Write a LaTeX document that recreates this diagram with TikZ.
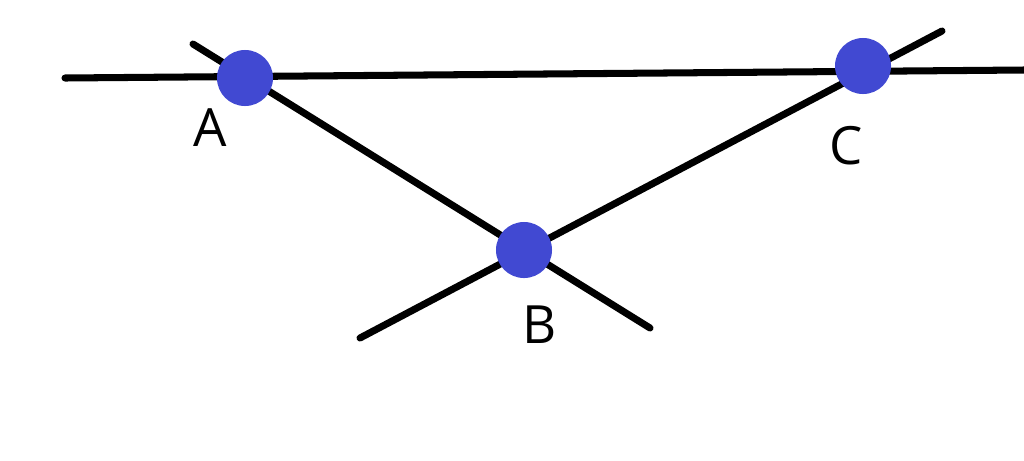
\documentclass[tikz,border=0pt]{standalone}
\usepackage{fontspec}
\setmainfont{Open Sans}
\definecolor{dotblue}{HTML}{4149D2}
\begin{document}
\begin{tikzpicture}[x=0.01cm,y=-0.01cm,
  ln/.style={line width=2pt,line cap=round},
  dot/.style={circle,fill=dotblue,minimum size=0.56cm,inner sep=0pt},
  lbl/.style={font=\fontsize{15}{18}\selectfont}]
\useasboundingbox (0,0) rectangle (1024,460);
\coordinate (h1) at (65,78);
\coordinate (h2) at (1024,70);
\coordinate (ab1) at (193,44);
\coordinate (ab2) at (650,328);
\coordinate (cb1) at (942,31);
\coordinate (cb2) at (360,338);
\draw[ln] (h1) -- (h2);
\draw[ln] (ab1) -- (ab2);
\draw[ln] (cb1) -- (cb2);
\node[dot] (A) at (245,78) {};
\node[dot] (B) at (524,250) {};
\node[dot] (C) at (863,66) {};
\node[lbl] (la) at (210,128) {A};
\node[lbl] (lb) at (540,325) {B};
\node[lbl] (lc) at (846,146) {C};
\end{tikzpicture}
\end{document}
